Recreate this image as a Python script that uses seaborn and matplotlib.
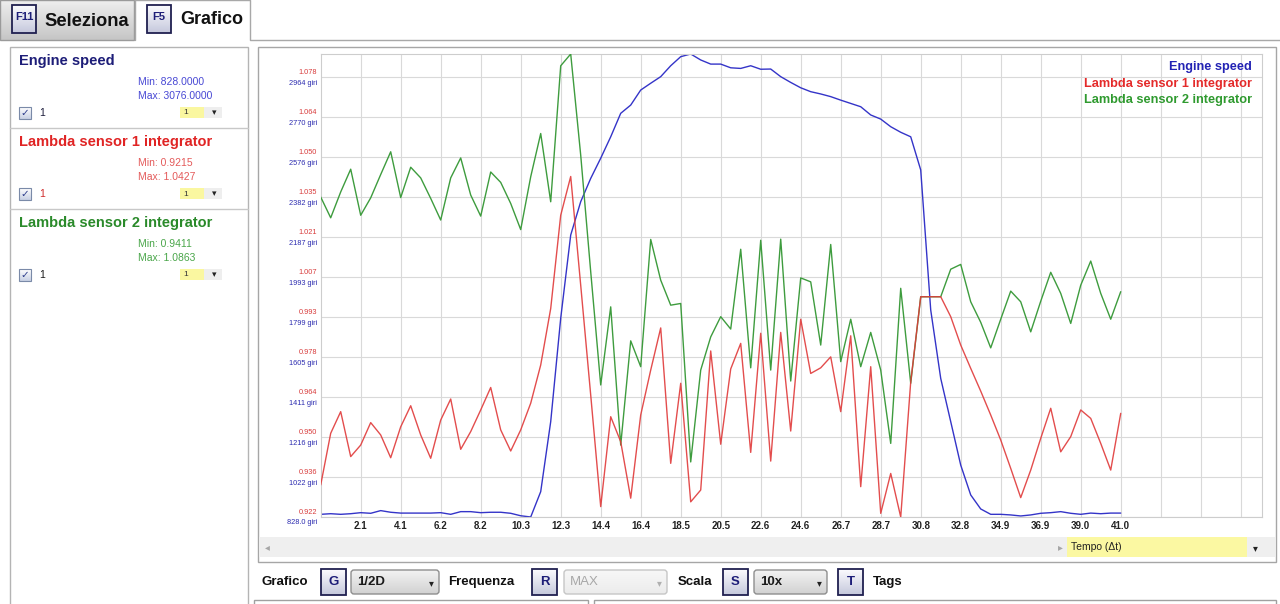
import numpy as np
import pandas as pd
import matplotlib
matplotlib.use('Agg')
import matplotlib.pyplot as plt
import matplotlib.transforms as mtransforms
from matplotlib.patches import Rectangle, FancyBboxPatch
from matplotlib.colors import LinearSegmentedColormap
import seaborn as sns

# --- dati del log (81 campioni, passo 0.5125 s) ---
SAMPLE_STEP = 0.5125
N_SAMPLES = 81

engine_speed = [841, 844, 841, 844, 849, 846, 859, 851, 847, 847,
                847, 847, 849, 841, 854, 854, 849, 851, 851, 846,
                834, 828, 951, 1291, 1793, 2197, 2359, 2472, 2570, 2674,
                2788, 2828, 2901, 2934, 2966, 3019, 3063, 3076, 3047, 3027,
                3027, 3009, 3006, 3019, 3002, 3003, 2966, 2938, 2912, 2893,
                2882, 2869, 2852, 2836, 2820, 2780, 2760, 2723, 2696, 2674,
                2513, 1833, 1501, 1291, 1080, 935, 867, 841, 841, 838,
                833, 838, 846, 849, 854, 846, 841, 847, 844, 847, 847]

lambda1 = [0.9329, 0.9513, 0.9590, 0.9430, 0.9471, 0.9551, 0.9507, 0.9426, 0.9536, 0.9611,
           0.9507, 0.9424, 0.9560, 0.9635, 0.9456, 0.9519, 0.9596, 0.9676, 0.9525, 0.9450,
           0.9525, 0.9620, 0.9756, 0.9957, 1.0289, 1.0427, 1.0040, 0.9649, 0.9252, 0.9572,
           0.9483, 0.9282, 0.9578, 0.9738, 0.9888, 0.9406, 0.9691, 0.9269, 0.9311, 0.9806,
           0.9474, 0.9742, 0.9833, 0.9445, 0.9869, 0.9414, 0.9872, 0.9521, 0.9919, 0.9726,
           0.9746, 0.9785, 0.9590, 0.9860, 0.9323, 0.9750, 0.9228, 0.9370, 0.9215, 0.9696,
           0.9999, 0.9999, 0.9999, 0.9928, 0.9827, 0.9744, 0.9663, 0.9578, 0.9489, 0.9388,
           0.9284, 0.9382, 0.9495, 0.9602, 0.9447, 0.9501, 0.9596, 0.9566, 0.9477, 0.9382, 0.9584]

lambda2 = [1.0354, 1.0280, 1.0372, 1.0453, 1.0289, 1.0351, 1.0434, 1.0515, 1.0352, 1.0460,
           1.0422, 1.0349, 1.0272, 1.0422, 1.0493, 1.0361, 1.0286, 1.0443, 1.0406, 1.0331,
           1.0238, 1.0426, 1.0580, 1.0337, 1.0821, 1.0863, 1.0503, 1.0088, 0.9685, 0.9963,
           0.9471, 0.9842, 0.9750, 1.0203, 1.0058, 0.9969, 0.9975, 0.9411, 0.9738, 0.9856,
           0.9928, 0.9884, 1.0168, 0.9746, 1.0200, 0.9738, 1.0204, 0.9699, 1.0066, 1.0052,
           0.9827, 1.0185, 0.9768, 0.9919, 0.9750, 0.9872, 0.9738, 0.9477, 1.0029, 0.9691,
           0.9999, 0.9999, 0.9999, 1.0097, 1.0114, 0.9981, 0.9908, 0.9817, 0.9919, 1.0019,
           0.9981, 0.9874, 0.9983, 1.0086, 1.0011, 0.9904, 1.0040, 1.0126, 1.0011, 0.9919, 1.0017]

series_names = ['Engine speed', 'Lambda sensor 1 integrator', 'Lambda sensor 2 integrator']
series_min = ['828.0000', '0.9215', '0.9411']
series_max = ['3076.0000', '1.0427', '1.0863']

rpm_min, rpm_max = 828.0, 3076.0
lam_min, lam_max = 0.9215, 1.0863
rpm_tick_step = 194.2
time_tick_step = 2.05
x_max = 48.24

rpm_tick_labels = ['828.0 giri', '1022 giri', '1216 giri', '1411 giri', '1605 giri', '1799 giri',
                   '1993 giri', '2187 giri', '2382 giri', '2576 giri', '2770 giri', '2964 giri']
lam_tick_labels = ['0.922', '0.936', '0.950', '0.964', '0.978', '0.993',
                   '1.007', '1.021', '1.035', '1.050', '1.064', '1.078']
time_tick_labels = ['2.1', '4.1', '6.2', '8.2', '10.3', '12.3', '14.4', '16.4', '18.5', '20.5',
                    '22.6', '24.6', '26.7', '28.7', '30.8', '32.8', '34.9', '36.9', '39.0', '41.0']

BLUE = '#3434c8'
RED = '#e03a3a'
GREEN = '#3e9c3e'
NAVY = '#1d1d78'

time = [round(SAMPLE_STEP * i, 4) for i in range(N_SAMPLES)]
df = pd.DataFrame({'t': time, 'rpm': engine_speed, 'l1': lambda1, 'l2': lambda2})

sns.set_style('white')
plt.rcParams['font.family'] = ['Liberation Sans', 'DejaVu Sans']

W, H = 1280, 604
fig = plt.figure(figsize=(12.8, 6.04), dpi=100)
fig.patch.set_facecolor('white')

# asse "schermo" in pixel per la parte di interfaccia
ui = fig.add_axes([0, 0, 1, 1])
ui.set_xlim(0, W)
ui.set_ylim(H, 0)
ui.set_autoscale_on(False)
ui.axis('off')


def rect(x0, y0, x1, y1, fc='white', ec='#a8a8a8', lw=1.0, z=1):
    p = Rectangle((x0, y0), x1 - x0, y1 - y0, facecolor=fc, edgecolor=ec, lw=lw, zorder=z)
    ui.add_patch(p)
    return p


def grad(x0, y0, x1, y1, c_top, c_bot, z=1, clip=None):
    cmap = LinearSegmentedColormap.from_list('g', [c_top, c_bot])
    im = ui.imshow(np.linspace(0, 1, 32).reshape(-1, 1), extent=(x0, x1, y1, y0),
                   cmap=cmap, aspect='auto', zorder=z, interpolation='bilinear')
    if clip is not None:
        im.set_clip_path(clip)
    ui.set_xlim(0, W)
    ui.set_ylim(H, 0)


def key_icon(x0, y0, x1, y1, label, fs, dy=0):
    grad(x0, y0, x1, y1, '#fbfbfe', '#c5c8dc', z=2)
    rect(x0, y0, x1, y1, fc='none', ec='#202050', lw=1.3, z=3)
    ui.text((x0 + x1) / 2, (y0 + y1) / 2 + dy, label, ha='center', va='center',
            fontsize=fs, fontweight='bold', color=NAVY, zorder=4)


def dropdown(x0, y0, x1, y1, label, disabled=False):
    p = FancyBboxPatch((x0, y0), x1 - x0, y1 - y0, boxstyle='round,pad=0,rounding_size=3',
                       facecolor='none', edgecolor='#c6c6c6' if disabled else '#8e8e8e',
                       lw=1.0, zorder=3)
    ui.add_patch(p)
    if disabled:
        grad(x0, y0, x1, y1, '#f7f7f7', '#ececec', z=2, clip=p)
    else:
        grad(x0, y0, x1, y1, '#f2f2f2', '#d2d2d2', z=2, clip=p)
    col = '#a8a8a8' if disabled else '#1a1a1a'
    ui.text(x0 + 6, (y0 + y1) / 2, label, ha='left', va='center', fontsize=9.5,
            fontweight='normal' if disabled else 'bold', color=col, zorder=4)
    ui.text(x1 - 8, (y0 + y1) / 2 + 1, '▾', ha='center', va='center', fontsize=7,
            color='#b0b0b0' if disabled else '#222222', zorder=4)


# --- tab in alto ---
grad(0, 0, 134, 40, '#eeeeee', '#c6c6c6', z=1)
rect(0, 0, 134, 40, fc='none', ec='#9a9a9a', z=2)
ui.plot([135, 135, 250, 250, W], [40, 0, 0, 40, 40], color='#a8a8a8', lw=1.0, zorder=2)
key_icon(12, 5, 36, 33, 'F11', 8, dy=-2)
key_icon(147, 5, 171, 33, 'F5', 8, dy=-2)
ui.text(44, 21, 'Seleziona', ha='left', va='center', fontsize=13.2, fontweight='bold', color='#111111')
ui.text(180, 20, 'Grafico', ha='left', va='center', fontsize=13, fontweight='bold', color='#111111')

# --- pannello di sinistra ---
rect(10, 47, 248, 640, ec='#b4b4b4')
for y in (128, 209):
    ui.plot([10, 248], [y, y], color='#c8c8c8', lw=1.0, zorder=2)

title_cols = [NAVY, '#e02424', '#2a8a2a']
minmax_cols = ['#4848d4', '#e45a5a', '#4aa64a']
check_cols = ['#1a1a3a', '#d02a2a', '#1a1a1a']
section_y = [47, 128, 209]
for k, name in enumerate(series_names):
    y0 = section_y[k]
    ui.text(19, y0 + 14, name, ha='left', va='center', fontsize=10.5, fontweight='bold',
            color=title_cols[k], zorder=3)
    ui.text(138, y0 + 35, 'Min: ' + series_min[k], ha='left', va='center', fontsize=7.5,
            color=minmax_cols[k], zorder=3)
    ui.text(138, y0 + 49, 'Max: ' + series_max[k], ha='left', va='center', fontsize=7.5,
            color=minmax_cols[k], zorder=3)
    cy = y0 + 66
    grad(19, cy - 6, 31, cy + 6, '#ffffff', '#c8d0e4', z=2)
    rect(19, cy - 6, 31, cy + 6, fc='none', ec='#7a8aa8', lw=0.8, z=3)
    ui.text(25, cy, '✓', ha='center', va='center', fontsize=7.5, color='#2a3a8a',
            family=['DejaVu Sans'], zorder=4)
    ui.text(39, cy, '1', ha='left', va='center', fontsize=7.5, color=check_cols[k], zorder=3)
    rect(180, cy - 6, 204, cy + 5, fc='#faf7a0', ec='none', z=2)
    rect(204, cy - 6, 222, cy + 5, fc='#eeeeee', ec='none', z=2)
    ui.text(183, cy, '1', ha='left', va='center', fontsize=6, color='#333333', zorder=3)
    ui.text(214, cy, '▾', ha='center', va='center', fontsize=6.5, color='#222222', zorder=3)

# --- pannello del grafico ---
rect(258, 47, 1276, 562, ec='#a6a6a6')
rect(259, 537, 1275, 557, fc='#efefef', ec='none', z=2)
rect(1067, 537, 1247, 557, fc='#fbf8a2', ec='none', z=3)
ui.text(1071, 547, 'Tempo (Δt)', ha='left', va='center', fontsize=7.5, color='#222222', zorder=4)
ui.text(267, 547, '◂', ha='center', va='center', fontsize=7, color='#a6a6a6', zorder=4)
ui.text(1060, 547, '▸', ha='center', va='center', fontsize=7, color='#a6a6a6', zorder=4)
ui.text(1255, 548, '▾', ha='center', va='center', fontsize=7, color='#222222', zorder=4)

# --- barra dei comandi in basso ---
ui.text(262, 582, 'Grafico', ha='left', va='center', fontsize=9.5, fontweight='bold', color='#111111')
key_icon(321, 569, 346, 595, 'G', 9.5)
dropdown(351, 570, 439, 594, '1/2D')
ui.text(448, 582, 'Frequenza', ha='left', va='center', fontsize=9.5, fontweight='bold', color='#111111')
key_icon(532, 569, 557, 595, 'R', 9.5)
dropdown(564, 570, 667, 594, 'MAX', disabled=True)
ui.text(678, 582, 'Scala', ha='left', va='center', fontsize=9.5, fontweight='bold', color='#111111')
key_icon(723, 569, 748, 595, 'S', 9.5)
dropdown(754, 570, 827, 594, '10x')
key_icon(838, 569, 863, 595, 'T', 9.5)
ui.text(873, 582, 'Tags', ha='left', va='center', fontsize=9.5, fontweight='bold', color='#111111')
rect(254, 600, 588, 640, ec='#a0a0a0')
rect(594, 600, 1276, 640, ec='#a0a0a0')

# --- area dati ---
def px(x0, y0, x1, y1):
    return [x0 / W, 1 - y1 / H, (x1 - x0) / W, (y1 - y0) / H]


ax = fig.add_axes(px(320.7, 54, 1262, 517))
sns.lineplot(data=df, x='t', y='rpm', ax=ax, color=BLUE, lw=1.0)
ax.set_xlim(0, x_max)
ax.set_ylim(rpm_min, rpm_max)

rpm_ticks = [rpm_min + rpm_tick_step * k for k in range(len(rpm_tick_labels))]
x_ticks = [time_tick_step * k for k in range(1, 24)]
ax.set_xticks(x_ticks)
ax.set_xticklabels(time_tick_labels + [''] * (len(x_ticks) - len(time_tick_labels)),
                   fontweight='bold')
ax.set_yticks(rpm_ticks)
ax.set_yticklabels([])
ax.tick_params(axis='both', length=0)
ax.tick_params(axis='x', pad=3, labelsize=7, labelcolor='#222222')
ax.grid(True, color='#d9d9d9', lw=0.8)
ax.set_xlabel('')
ax.set_ylabel('')
for s in ax.spines.values():
    s.set_color('#cdcdcd')
    s.set_linewidth(0.8)

ax_l = ax.twinx()
sns.lineplot(data=df, x='t', y='l2', ax=ax_l, color=GREEN, lw=1.0)
sns.lineplot(data=df, x='t', y='l1', ax=ax_l, color=RED, lw=1.0, alpha=0.9)
ax_l.set_ylim(lam_min, lam_max)
ax_l.set_yticks([])
ax_l.set_ylabel('')
ax_l.grid(False)
for s in ax_l.spines.values():
    s.set_visible(False)

# etichette dei due assi y, impilate a sinistra
blend = mtransforms.blended_transform_factory(ax.transAxes, ax.transData)
tr_up = mtransforms.offset_copy(blend, fig=fig, x=-3.5, y=1.0, units='dots')
tr_dn = mtransforms.offset_copy(blend, fig=fig, x=-3.5, y=-2.5, units='dots')
for yv, lab_l, lab_r in zip(rpm_ticks, lam_tick_labels, rpm_tick_labels):
    ax.text(0, yv, lab_l, transform=tr_up, ha='right', va='bottom', fontsize=5.3,
            color='#d83c3c', clip_on=False)
    ax.text(0, yv, lab_r, transform=tr_dn, ha='right', va='top', fontsize=5.3,
            color='#2c2cb0', clip_on=False)

# legenda in alto a destra
legend_cols = ['#2323b4', '#e42a2a', '#2f9a2f']
for k, name in enumerate(series_names):
    ax.text(1252, 67 + 16.5 * k, name, transform=ui.transData, ha='right', va='center',
            fontsize=9.2, fontweight='bold', color=legend_cols[k], clip_on=False, zorder=5)

fig.savefig('out.png', dpi=100)
